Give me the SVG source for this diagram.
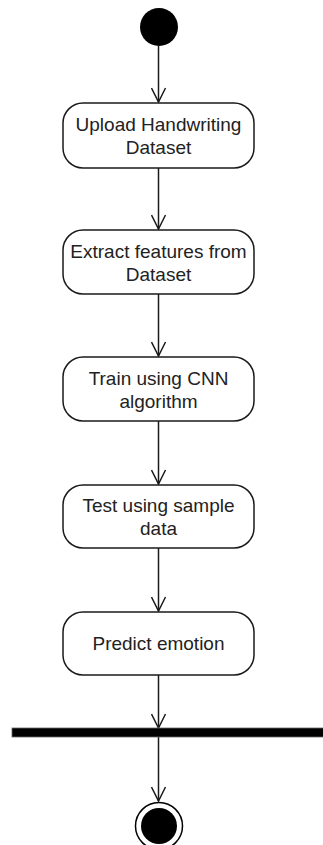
<svg xmlns="http://www.w3.org/2000/svg" width="323" height="845" viewBox="0 0 323 845">
<defs>
<style>
.box{fill:#fff;stroke:#1a1a1a;stroke-width:1.5}
.lbl{font-family:"Liberation Sans",Arial,sans-serif;font-size:19px;fill:#222;text-anchor:middle;dominant-baseline:central}
.edge{stroke:#1a1a1a;stroke-width:1.5;fill:none}
</style>
<marker id="arr" viewBox="0 0 16 16" refX="15" refY="8" markerWidth="16" markerHeight="16" markerUnits="userSpaceOnUse" orient="auto">
<path d="M1,1 L15,8 L1,15" fill="none" stroke="#1a1a1a" stroke-width="1.5"/>
</marker>
</defs>
<rect width="323" height="845" fill="#fff"/>
<g id="edges">
<path class="edge" d="M158.5,46 V102" marker-end="url(#arr)"/>
<path class="edge" d="M158.5,168 V229" marker-end="url(#arr)"/>
<path class="edge" d="M158.5,294 V356" marker-end="url(#arr)"/>
<path class="edge" d="M158.5,421 V484" marker-end="url(#arr)"/>
<path class="edge" d="M158.5,548 V611" marker-end="url(#arr)"/>
<path class="edge" d="M158.5,675 V728" marker-end="url(#arr)"/>
<path class="edge" d="M158.5,737 V801" marker-end="url(#arr)"/>
</g>
<g id="start"><circle cx="159" cy="27" r="19" fill="#000"/></g>
<g id="n1"><rect class="box" x="63" y="103" width="191" height="65" rx="20"/>
<text class="lbl" x="158.5" y="124">Upload Handwriting</text><text class="lbl" x="158.5" y="147">Dataset</text></g>
<g id="n2"><rect class="box" x="63" y="230" width="191" height="64" rx="20"/>
<text class="lbl" x="158.5" y="251">Extract features from</text><text class="lbl" x="158.5" y="274">Dataset</text></g>
<g id="n3"><rect class="box" x="63" y="357" width="191" height="64" rx="20"/>
<text class="lbl" x="158.5" y="378">Train using CNN</text><text class="lbl" x="158.5" y="401">algorithm</text></g>
<g id="n4"><rect class="box" x="63" y="485" width="191" height="63" rx="20"/>
<text class="lbl" x="158.5" y="505">Test using sample</text><text class="lbl" x="158.5" y="528">data</text></g>
<g id="n5"><rect class="box" x="63" y="612" width="191" height="63" rx="20"/>
<text class="lbl" x="158.5" y="643">Predict emotion</text></g>
<g id="bar"><rect x="12" y="728" width="315" height="9" fill="#000" stroke="#666" stroke-width="0.8"/></g>
<g id="end"><circle cx="159" cy="826" r="23.5" fill="#fff" stroke="#000" stroke-width="1.5"/><circle cx="159" cy="826" r="18" fill="#000"/></g>
</svg>
